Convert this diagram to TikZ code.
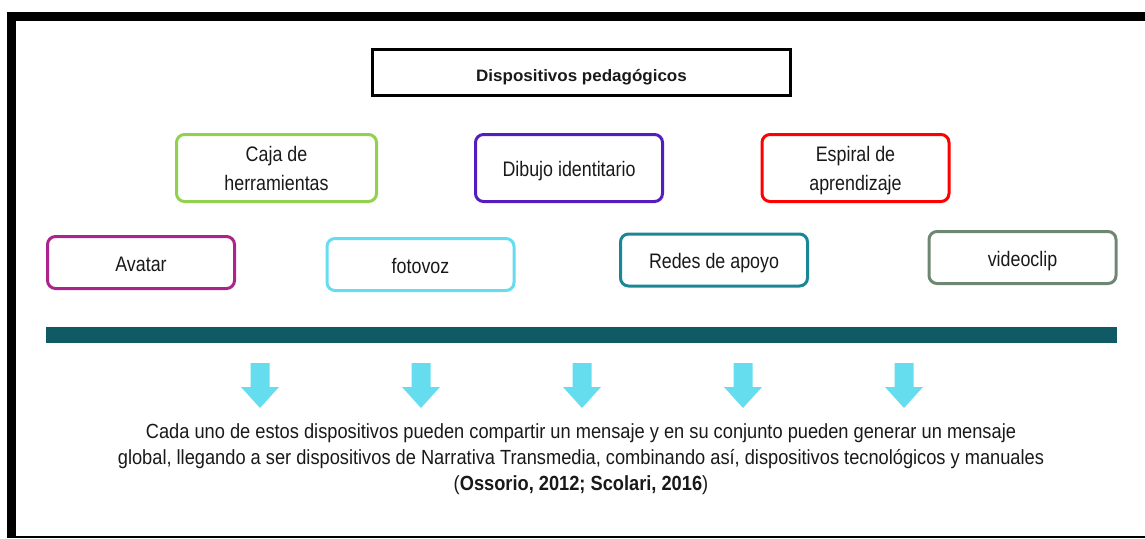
\documentclass[tikz,border=0pt]{standalone}
\usepackage{fontspec}
\setmainfont{Liberation Sans}[FakeStretch=0.85]
\newfontfamily\titlefont{Liberation Sans}[FakeStretch=1.03]
\newfontfamily\cuerpo{Liberation Sans}[FakeStretch=0.89]
\usepackage{tikz}

\definecolor{verde}{RGB}{146,208,80}
\definecolor{magenta}{RGB}{173,35,140}
\definecolor{celeste}{RGB}{102,221,238}
\definecolor{violeta}{RGB}{84,30,190}
\definecolor{turquesa}{RGB}{25,135,150}
\definecolor{rojo}{RGB}{255,0,0}
\definecolor{gris}{RGB}{110,135,115}
\definecolor{barra}{RGB}{15,90,100}
\definecolor{texto}{RGB}{25,25,25}

\begin{document}
\begin{tikzpicture}[x=1pt,y=-1pt,
    caja/.style={draw=#1, line width=3pt, rounded corners=8pt, align=center,
        minimum width=187pt, minimum height=52pt, inner sep=2pt,
        text=texto, font=\fontsize{21}{29}\selectfont},
    linea/.style={text height=17pt, text depth=0pt}]

    \useasboundingbox (0,0) rectangle (1145,538);

    % Step 1: frame (the right side is cut)
    \draw[line width=8.4pt] (6.7,16.5) -- (1145,16.5);
    \draw[line width=9pt] (11.2,12.3) -- (11.2,538);
    \draw[line width=1.5pt] (6.7,536.8) -- (1145,536.8);

    % Step 2: title
    \node[draw, line width=3pt, minimum width=418pt, minimum height=46pt,
        text height=17pt, text depth=0pt,
        font=\titlefont\bfseries\fontsize{16.5}{20}\selectfont, text=texto]
        (titulo) at (581.5,72.5) {Dispositivos pedagógicos};

    % Step 3: upper row of devices
    \node[caja=verde, minimum width=200pt, minimum height=67pt] (herramientas) at (276.5,168) {Caja de\\herramientas};
    \node[caja=violeta, linea, minimum height=67pt] (dibujo) at (569,168) {Dibujo identitario};
    \node[caja=rojo, minimum height=67pt] (espiral) at (855.5,168) {Espiral de\\\smash{aprendizaje}};

    % Step 4: lower row of devices
    \node[caja=magenta, linea] (avatar) at (141,262.5) {Avatar};
    \node[caja=celeste, linea] (fotovoz) at (420.5,264.5) {fotovoz};
    \node[caja=turquesa, linea] (redes) at (714,260) {Redes de apoyo};
    \node[caja=gris, linea] (videoclip) at (1022.5,257.5) {videoclip};

    % Step 5: bar and arrows
    \fill[barra] (46,327) rectangle (1117,343);
    \foreach \x in {260,421,...,904} {
        \fill[celeste] (\x-9.5,363) -- (\x+9.5,363) -- (\x+9.5,387) -- (\x+19,387)
            -- (\x,408) -- (\x-19,387) -- (\x-9.5,387) -- cycle;
    }

    % Step 6: closing text
    \node[align=center, text=texto, font=\cuerpo\fontsize{20.5}{25.8}\selectfont] (mensaje) at (581,459)
        {Cada uno de estos dispositivos pueden compartir un mensaje y en su conjunto pueden generar un mensaje\\
         global, llegando a ser dispositivos de Narrativa Transmedia, combinando así, dispositivos tecnológicos y manuales\\
         (\textbf{Ossorio, 2012; Scolari, 2016})};

\end{tikzpicture}
\end{document}
